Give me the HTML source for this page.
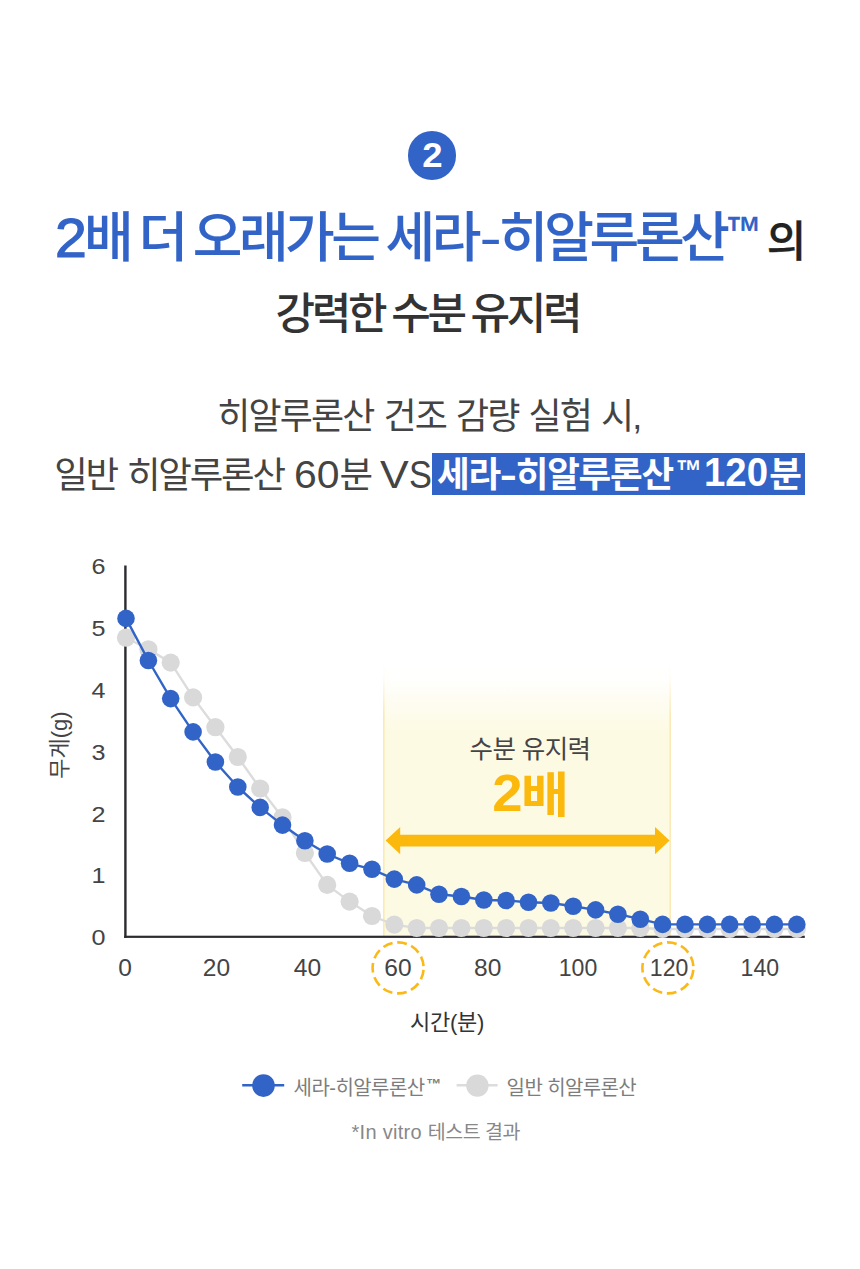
<!DOCTYPE html>
<html lang="ko">
<head>
<meta charset="utf-8">
<title>세라-히알루론산 수분 유지력</title>
<style>
  html, body { margin: 0; padding: 0; background: #ffffff; }
  body { width: 860px; height: 1269px; position: relative; overflow: hidden;
         font-family: "Liberation Sans", "Noto Sans CJK KR", sans-serif; color: #333; }
  .abs { position: absolute; white-space: nowrap; line-height: 1; }
  .blue { color: #3264c8; }
  .n { display: inline-block; transform-origin: 0 100%; }
  #badge { left: 407.5px; top: 130.8px; width: 48.8px; height: 48.8px; border-radius: 50%;
           background: #3264c8; }
  #badge span { position: absolute; left: 0; right: 0; top: 7.2px; text-align: center; transform: scaleX(1.06);
           color: #fff; font-weight: 700; font-size: 34.5px; line-height: 34.5px; }
  #h1 { left: 55px; top: 211px; font-size: 54px; font-weight: 500; -webkit-text-stroke: 0.1px #3264c8;
        letter-spacing: -3.55px; word-spacing: -3.2px; }
  #h1 .hy { margin: 0 4px 0 2.5px; display: inline-block; transform: translate(-0.5px,-1.5px) scaleX(1.24); transform-origin: 0 50%; }
  #h1 .w5 { letter-spacing: -4.3px; }
  #h1 .n { transform: scale(1.06, 1.04); margin-right: 2.6px; -webkit-text-stroke: 1.2px #3264c8; }
  #h1 .tm { font-size: 36px; display: inline-block; transform: scaleY(1.27); transform-origin: 0 0; position: relative; top: -17px; letter-spacing: 0; margin-left: 0px; font-weight: 700; -webkit-text-stroke: 0; }
  #h1 .ui { font-size: 43px; font-weight: 500; color: #222; letter-spacing: 0; margin-left: 5px; -webkit-text-stroke: 0.3px #222; }
  #h2 { left: 275.5px; top: 292.8px; font-size: 43px; font-weight: 500;
        color: #333; letter-spacing: -3.25px; word-spacing: -2px; }
  #s1 { left: 217.2px; top: 398.5px; font-size: 36px; font-weight: 400;
        color: #444; letter-spacing: -1.87px; word-spacing: 1.9px; }
  #s2 { left: 54.2px; top: 458.2px; font-size: 36.5px; font-weight: 400; color: #444; letter-spacing: -2.19px; word-spacing: 2.0px; }
  #s2 .n { transform: scale(1.12,1.05); margin-right: 5px; letter-spacing: 0; }
  #s2 .v { transform: scale(1.18,1.05); margin-right: 4.6px; margin-left: -1px; }
  #s2 .s { transform: scale(0.94,1.05); margin-right: 0; }
  #s2box { left: 432.3px; top: 453.2px; width: 372.4px; height: 41.4px; background: #3264c8; }
  #s2w { left: 437px; top: 458px; font-size: 35.5px; font-weight: 700; color: #fff; letter-spacing: -1.27px; }
  #s2w .tm { font-size: 26px; display: inline-block; transform: scaleY(1.22); transform-origin: 0 0; position: relative; top: -10px; letter-spacing: 0; margin-left: 3px; margin-right: -6px; }
  #s2w .hy { margin: 0 2.5px 0 3px; display: inline-block; transform: translate(-3.3px,-0.5px) scaleX(1.45); transform-origin: 0 50%; }
  #s2w .n { transform: scale(1.08,1.12); margin-right: 5.6px; letter-spacing: 0; }
  svg text { font-family: "Liberation Sans", "Noto Sans CJK KR", sans-serif; }
</style>

</head>
<body>
  <div id="badge" class="abs"><span>2</span></div>
  <div id="h1" class="abs"><span class="blue"><span class="n">2</span>배 더 오래가는 세라<span class="hy">-</span><span class="w5">히알루론산</span><span class="tm">™</span></span><span class="ui">의</span></div>
  <div id="h2" class="abs">강력한 수분 유지력</div>
  <div id="s1" class="abs">히알루론산 건조 감량 실험 시,</div>
  <div id="s2" class="abs">일반 히알루론산 <span class="n">60</span>분 <span class="n v">V</span><span class="n s">S</span></div>
  <div id="s2box" class="abs"></div>
  <div id="s2w" class="abs">세라<span class="hy">-</span>히알루론산<span class="tm">™</span> <span class="n">120</span>분</div>

  <svg id="chart" class="abs" style="left:0;top:540px" width="860" height="640" viewBox="0 540 860 640">
    <defs><linearGradient id="band" x1="0" y1="0" x2="0" y2="1"><stop offset="0" stop-color="#fdfae4" stop-opacity="0"/><stop offset="0.06" stop-color="#fdfae4" stop-opacity="0.08"/><stop offset="0.25" stop-color="#fdfae4" stop-opacity="1"/><stop offset="1" stop-color="#fdfae4" stop-opacity="1"/></linearGradient><linearGradient id="bandl" x1="0" y1="0" x2="0" y2="1"><stop offset="0" stop-color="#fbe6a8" stop-opacity="0"/><stop offset="0.06" stop-color="#fbe6a8" stop-opacity="0.1"/><stop offset="0.2" stop-color="#fbe6a8" stop-opacity="1"/><stop offset="1" stop-color="#fbe6a8" stop-opacity="1"/></linearGradient></defs>
    <rect x="383" y="662" width="287.5" height="274" fill="url(#band)"/>
    <rect x="383.2" y="662" width="1.3" height="274" fill="url(#bandl)"/>
    <rect x="669.5" y="662" width="1.3" height="274" fill="url(#bandl)"/>
    <text x="530" y="757.5" text-anchor="middle" font-size="25.5" fill="#444" letter-spacing="-0.6">수분 유지력</text>
    <g font-weight="700" fill="#fcb90d"><text transform="translate(492.2,811.4) scale(1.1,1.05)" font-size="49.5">2</text><text transform="translate(521,811.6) scale(1.075,0.99)" font-size="48.5">배</text></g>
    <path d="M385.6 840.6 L400.2 827.0 L400.2 834.8 L655 834.8 L655 827.0 L669.6 840.6 L655 854.2 L655 846.4 L400.2 846.4 L400.2 854.2 Z" fill="#fcb90d"/>
    <rect x="124.2" y="565.5" width="2.4" height="372.4" fill="#2b2b31"/>
    <rect x="124.2" y="935.7" width="680.6" height="2.2" fill="#2b2b31"/>
    <polyline points="126.0,637.7 148.4,649.3 170.7,662.6 193.1,697.4 215.4,727.2 237.8,757.0 260.2,788.5 282.5,817.4 304.9,853.0 327.2,884.9 349.6,901.6 372.0,916.0 394.3,924.6 416.7,928.0 439.0,928.0 461.4,928.0 483.8,928.0 506.1,928.0 528.5,928.0 550.8,928.0 573.2,928.0 595.6,928.0 617.9,928.0 640.3,928.0 662.6,929.0 685.0,929.0 707.4,929.0 729.7,929.0 752.1,929.0 774.4,929.0 796.8,929.0" fill="none" stroke="#dcdcdc" stroke-width="2.4" stroke-linejoin="round"/>
    <circle cx="126.0" cy="637.7" r="9.1" fill="#d9d9d9"/>
    <circle cx="148.4" cy="649.3" r="9.1" fill="#d9d9d9"/>
    <circle cx="170.7" cy="662.6" r="9.1" fill="#d9d9d9"/>
    <circle cx="193.1" cy="697.4" r="9.1" fill="#d9d9d9"/>
    <circle cx="215.4" cy="727.2" r="9.1" fill="#d9d9d9"/>
    <circle cx="237.8" cy="757.0" r="9.1" fill="#d9d9d9"/>
    <circle cx="260.2" cy="788.5" r="9.1" fill="#d9d9d9"/>
    <circle cx="282.5" cy="817.4" r="9.1" fill="#d9d9d9"/>
    <circle cx="304.9" cy="853.0" r="9.1" fill="#d9d9d9"/>
    <circle cx="327.2" cy="884.9" r="9.1" fill="#d9d9d9"/>
    <circle cx="349.6" cy="901.6" r="9.1" fill="#d9d9d9"/>
    <circle cx="372.0" cy="916.0" r="9.1" fill="#d9d9d9"/>
    <circle cx="394.3" cy="924.6" r="9.1" fill="#d9d9d9"/>
    <circle cx="416.7" cy="928.0" r="9.1" fill="#d9d9d9"/>
    <circle cx="439.0" cy="928.0" r="9.1" fill="#d9d9d9"/>
    <circle cx="461.4" cy="928.0" r="9.1" fill="#d9d9d9"/>
    <circle cx="483.8" cy="928.0" r="9.1" fill="#d9d9d9"/>
    <circle cx="506.1" cy="928.0" r="9.1" fill="#d9d9d9"/>
    <circle cx="528.5" cy="928.0" r="9.1" fill="#d9d9d9"/>
    <circle cx="550.8" cy="928.0" r="9.1" fill="#d9d9d9"/>
    <circle cx="573.2" cy="928.0" r="9.1" fill="#d9d9d9"/>
    <circle cx="595.6" cy="928.0" r="9.1" fill="#d9d9d9"/>
    <circle cx="617.9" cy="928.0" r="9.1" fill="#d9d9d9"/>
    <circle cx="640.3" cy="928.0" r="9.1" fill="#d9d9d9"/>
    <circle cx="662.6" cy="929.0" r="9.1" fill="#d9d9d9"/>
    <circle cx="685.0" cy="929.0" r="9.1" fill="#d9d9d9"/>
    <circle cx="707.4" cy="929.0" r="9.1" fill="#d9d9d9"/>
    <circle cx="729.7" cy="929.0" r="9.1" fill="#d9d9d9"/>
    <circle cx="752.1" cy="929.0" r="9.1" fill="#d9d9d9"/>
    <circle cx="774.4" cy="929.0" r="9.1" fill="#d9d9d9"/>
    <circle cx="796.8" cy="929.0" r="9.1" fill="#d9d9d9"/>
    <polyline points="126.0,618.4 148.4,660.5 170.7,698.6 193.1,731.9 215.4,762.0 237.8,787.0 260.2,807.4 282.5,825.1 304.9,840.7 327.2,854.0 349.6,863.3 372.0,869.3 394.3,879.1 416.7,884.9 439.0,894.2 461.4,896.5 483.8,900.0 506.1,900.5 528.5,902.3 550.8,903.0 573.2,906.3 595.6,909.9 617.9,914.2 640.3,919.2 662.6,924.4 685.0,924.4 707.4,924.4 729.7,924.4 752.1,924.4 774.4,924.4 796.8,924.4" fill="none" stroke="#3264c8" stroke-width="2.4" stroke-linejoin="round"/>
    <circle cx="126.0" cy="618.4" r="8.8" fill="#3264c8"/>
    <circle cx="148.4" cy="660.5" r="8.8" fill="#3264c8"/>
    <circle cx="170.7" cy="698.6" r="8.8" fill="#3264c8"/>
    <circle cx="193.1" cy="731.9" r="8.8" fill="#3264c8"/>
    <circle cx="215.4" cy="762.0" r="8.8" fill="#3264c8"/>
    <circle cx="237.8" cy="787.0" r="8.8" fill="#3264c8"/>
    <circle cx="260.2" cy="807.4" r="8.8" fill="#3264c8"/>
    <circle cx="282.5" cy="825.1" r="8.8" fill="#3264c8"/>
    <circle cx="304.9" cy="840.7" r="8.8" fill="#3264c8"/>
    <circle cx="327.2" cy="854.0" r="8.8" fill="#3264c8"/>
    <circle cx="349.6" cy="863.3" r="8.8" fill="#3264c8"/>
    <circle cx="372.0" cy="869.3" r="8.8" fill="#3264c8"/>
    <circle cx="394.3" cy="879.1" r="8.8" fill="#3264c8"/>
    <circle cx="416.7" cy="884.9" r="8.8" fill="#3264c8"/>
    <circle cx="439.0" cy="894.2" r="8.8" fill="#3264c8"/>
    <circle cx="461.4" cy="896.5" r="8.8" fill="#3264c8"/>
    <circle cx="483.8" cy="900.0" r="8.8" fill="#3264c8"/>
    <circle cx="506.1" cy="900.5" r="8.8" fill="#3264c8"/>
    <circle cx="528.5" cy="902.3" r="8.8" fill="#3264c8"/>
    <circle cx="550.8" cy="903.0" r="8.8" fill="#3264c8"/>
    <circle cx="573.2" cy="906.3" r="8.8" fill="#3264c8"/>
    <circle cx="595.6" cy="909.9" r="8.8" fill="#3264c8"/>
    <circle cx="617.9" cy="914.2" r="8.8" fill="#3264c8"/>
    <circle cx="640.3" cy="919.2" r="8.8" fill="#3264c8"/>
    <circle cx="662.6" cy="924.4" r="8.8" fill="#3264c8"/>
    <circle cx="685.0" cy="924.4" r="8.8" fill="#3264c8"/>
    <circle cx="707.4" cy="924.4" r="8.8" fill="#3264c8"/>
    <circle cx="729.7" cy="924.4" r="8.8" fill="#3264c8"/>
    <circle cx="752.1" cy="924.4" r="8.8" fill="#3264c8"/>
    <circle cx="774.4" cy="924.4" r="8.8" fill="#3264c8"/>
    <circle cx="796.8" cy="924.4" r="8.8" fill="#3264c8"/>
    <text transform="translate(98.5,945.0) scale(1.2,1.06)" text-anchor="middle" font-size="21" fill="#444">0</text>
    <text transform="translate(98.5,883.2) scale(1.2,1.06)" text-anchor="middle" font-size="21" fill="#444">1</text>
    <text transform="translate(98.5,821.8) scale(1.2,1.06)" text-anchor="middle" font-size="21" fill="#444">2</text>
    <text transform="translate(98.5,760.4) scale(1.2,1.06)" text-anchor="middle" font-size="21" fill="#444">3</text>
    <text transform="translate(98.5,698.1) scale(1.2,1.06)" text-anchor="middle" font-size="21" fill="#444">4</text>
    <text transform="translate(98.5,635.8) scale(1.2,1.06)" text-anchor="middle" font-size="21" fill="#444">5</text>
    <text transform="translate(98.5,574.4) scale(1.2,1.06)" text-anchor="middle" font-size="21" fill="#444">6</text>
    <text transform="translate(125.0,976.2) scale(1.17,1.11)" text-anchor="middle" font-size="21" fill="#444">0</text>
    <text transform="translate(216.5,976.2) scale(1.17,1.11)" text-anchor="middle" font-size="21" fill="#444">20</text>
    <text transform="translate(307.5,976.2) scale(1.17,1.11)" text-anchor="middle" font-size="21" fill="#444">40</text>
    <text transform="translate(398.0,976.2) scale(1.17,1.11)" text-anchor="middle" font-size="21" fill="#444">60</text>
    <text transform="translate(487.7,976.2) scale(1.17,1.11)" text-anchor="middle" font-size="21" fill="#444">80</text>
    <text transform="translate(578.0,976.2) scale(1.10,1.11)" text-anchor="middle" font-size="21" fill="#444">100</text>
    <text transform="translate(669.1,976.2) scale(1.10,1.11)" text-anchor="middle" font-size="21" fill="#444">120</text>
    <text transform="translate(759.8,976.2) scale(1.10,1.11)" text-anchor="middle" font-size="21" fill="#444">140</text>
    <circle cx="398.1" cy="967.9" r="25.5" fill="none" stroke="#fbb917" stroke-width="2.6" stroke-dasharray="9.8 4.765" stroke-dashoffset="12.6"/>
    <circle cx="667.9" cy="967.9" r="25.5" fill="none" stroke="#fbb917" stroke-width="2.6" stroke-dasharray="9.8 4.765" stroke-dashoffset="12.6"/>
    <text transform="translate(67.3,745) rotate(-90)" text-anchor="middle" font-size="22" fill="#444">무게(g)</text>
    <text x="447" y="1029.5" text-anchor="middle" font-size="22" fill="#333" letter-spacing="-0.3">시간(분)</text>
    <line x1="242.2" y1="1085.3" x2="284.2" y2="1085.3" stroke="#3264c8" stroke-width="2.6"/><circle cx="263.5" cy="1085.6" r="11.3" fill="#3264c8"/>
    <text x="293.6" y="1094.5" font-size="20" fill="#7d7d7d" letter-spacing="-0.55">세라-히알루론산<tspan font-size="15" font-weight="700" dy="-5.3" dx="1.5">™</tspan></text>
    <line x1="456.6" y1="1085.3" x2="497.6" y2="1085.3" stroke="#dcdcdc" stroke-width="2.4"/><circle cx="477.4" cy="1085.6" r="11.2" fill="#d9d9d9"/>
    <text x="506.6" y="1094.5" font-size="20" fill="#7d7d7d" letter-spacing="-0.6">일반 히알루론산</text>
    <text x="351.5" y="1139.3" font-size="19.5" fill="#888" letter-spacing="-0.5"><tspan font-size="20" letter-spacing="0.3">*In vitro </tspan>테스트 결과</text>
  </svg>
</body>
</html>
